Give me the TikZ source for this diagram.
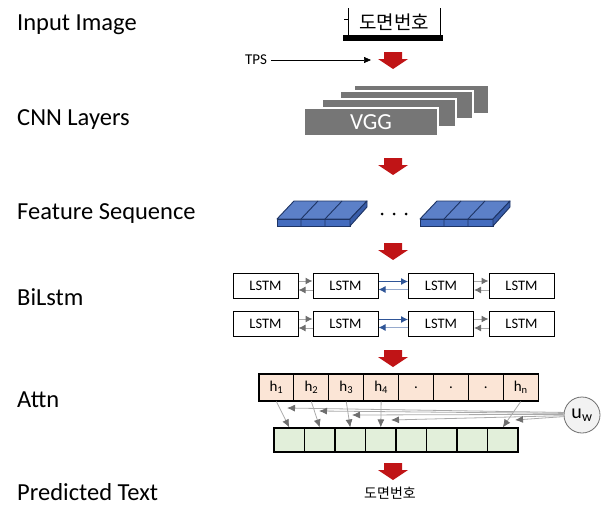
\documentclass[tikz,border=0pt]{standalone}
\usepackage{fontspec}
\setmainfont{Carlito}
\newfontfamily\kr{Noto Sans CJK KR}
\usetikzlibrary{arrows.meta}
\definecolor{redc}{RGB}{192,20,22}
\definecolor{vggc}{RGB}{118,118,118}
\definecolor{topc}{RGB}{92,128,200}
\definecolor{frontc}{RGB}{68,108,190}
\definecolor{sidec}{RGB}{56,92,168}
\definecolor{edgec}{RGB}{30,52,100}
\definecolor{bluearr}{RGB}{47,85,151}
\definecolor{lightblue}{RGB}{150,170,205}
\definecolor{hfill}{RGB}{251,229,214}
\definecolor{gfill}{RGB}{226,239,218}
\definecolor{darkgray}{RGB}{110,110,110}
\definecolor{litegray}{RGB}{170,170,170}
\begin{document}
\begin{tikzpicture}[x=1pt,y=-1pt,
  lbl/.style={anchor=base west,inner sep=0,font=\fontsize{24.5}{28}\selectfont},
  lstmbox/.style={draw,line width=1pt,fill=white,minimum width=65pt,minimum height=25pt,inner sep=0,font=\fontsize{14.5}{16}\selectfont},
  grayarr/.style={draw=litegray,line width=1pt,-{Latex[length=7pt,width=7pt,color=darkgray]}},
  bluearrow/.style={draw=bluearr,line width=0.8pt,-{Latex[length=7pt,width=7pt,color=bluearr]}},
  bluearrowb/.style={draw=lightblue,line width=1pt,-{Latex[length=7pt,width=7pt,color=bluearr]}},
  hcell/.style={draw,line width=1.1pt,fill=hfill,minimum width=34.9pt,minimum height=27pt,inner sep=0,font=\fontsize{15}{17}\selectfont},
  gcell/.style={draw,line width=1.1pt,fill=gfill,minimum width=30.5pt,minimum height=24pt,inner sep=0},
  attarr/.style={draw=litegray,line width=0.8pt,-{Latex[length=8pt,width=7pt,color=darkgray]}},
  cnnbox/.style={fill=vggc,draw=white,line width=1.2pt},
  redarrow/.pic={\fill[redc] (-9,0) -- (9,0) -- (9,7) -- (15,7) -- (0,17) -- (-15,7) -- (-9,7) -- cycle;},
  slab/.pic={
    \filldraw[fill=topc,draw=edgec,line width=0.9pt,line join=round] (0,-7) -- (73,-7) -- (90,-25) -- (17,-25) -- cycle;
    \filldraw[fill=frontc,draw=edgec,line width=0.9pt] (0,0) rectangle (73,-7);
    \filldraw[fill=sidec,draw=edgec,line width=0.9pt,line join=round] (73,0) -- (73,-7) -- (90,-25) -- (90,-19) -- cycle;
    \draw[edgec,line width=0.9pt] (24,-7) -- (41,-25) (48,-7) -- (65,-25) (24,0) -- (24,-7) (48,0) -- (48,-7);
  }]
\useasboundingbox (0,0) rectangle (605,506);

% left labels
\node[lbl] (l1) at (17,30) {Input Image};
\node[lbl] (l2) at (17,125) {CNN Layers};
\node[lbl] (l3) at (17,219) {Feature Sequence};
\node[lbl] (l4) at (17,305) {BiLstm};
\node[lbl] (l5) at (17,407) {Attn};
\node[lbl] (l6) at (17,500) {Predicted Text};

% input image
\fill (343,35) rectangle (443,41);
\draw[line width=1pt] (348,8) -- (348,35) -- (440,35) -- (440,8);
\draw[line width=0.8pt] (344,19) -- (348,19);
\node[inner sep=0,font=\kr\fontsize{19}{22}\selectfont] (img) at (394,22.5) {도면번호};

% TPS
\node[inner sep=0,font=\fontsize{15}{17}\selectfont] (tps) at (256,60) {TPS};
\coordinate (tpsend) at (371,60);
\draw[line width=0.6pt,-{Triangle[length=7pt,width=6pt]}] (tps.east) ++(4,0) -- (tpsend);

% red arrows
\pic at (393,52) {redarrow};
\pic at (393,158) {redarrow};
\pic at (393,243) {redarrow};
\pic at (393,350) {redarrow};
\pic at (393,463) {redarrow};

% CNN layers
\filldraw[cnnbox] (354,85) rectangle (489,114);
\filldraw[cnnbox] (340,91) rectangle (473,119);
\filldraw[cnnbox] (322,99) rectangle (456,127);
\filldraw[cnnbox] (304,108) rectangle (438,136);
\node[text=white,inner sep=0,font=\fontsize{23}{26}\selectfont] (vgg) at (371,122) {VGG};

% feature sequence
\pic at (277,226) {slab};
\pic at (420,226) {slab};
\foreach \xx in {382,394,406} \fill (\xx,214) circle (1.5);

% BiLSTM
\foreach \r/\yy in {a/285.5,b/323.5}{
  \node[lstmbox] (\r1) at (265.5,\yy) {LSTM};
  \node[lstmbox] (\r2) at (345.5,\yy) {LSTM};
  \node[lstmbox] (\r3) at (441,\yy) {LSTM};
  \node[lstmbox] (\r4) at (521.5,\yy) {LSTM};
  \draw[grayarr] ([yshift=4.5pt]\r1.east) -- ([yshift=4.5pt]\r2.west);
  \draw[grayarr] ([yshift=-4.5pt]\r2.west) -- ([yshift=-4.5pt]\r1.east);
  \draw[bluearrow] ([yshift=4pt]\r2.east) -- ([yshift=4pt]\r3.west);
  \draw[bluearrowb] ([yshift=-4pt]\r3.west) -- ([yshift=-4pt]\r2.east);
  \draw[grayarr] ([yshift=4.5pt]\r3.east) -- ([yshift=4.5pt]\r4.west);
  \draw[grayarr] ([yshift=-4.5pt]\r4.west) -- ([yshift=-4.5pt]\r3.east);
}

% attention
\foreach \i/\t in {1/h\textsubscript{1},2/h\textsubscript{2},3/h\textsubscript{3},4/h\textsubscript{4},5/.,6/.,7/.,8/h\textsubscript{n}}{
  \node[hcell] (h\i) at ({259+34.9*(\i-0.5)},387.5) {\t};
}
\foreach \i in {1,...,8}{
  \node[gcell] (g\i) at ({274+30.5*(\i-0.5)},440) {};
}
\foreach \i in {1,2,3,4,8}{
  \draw[attarr] (h\i.south) -- (g\i.north);
}
\node[circle,draw=darkgray,line width=0.8pt,fill=gray!10,minimum size=36pt,inner sep=0,font=\fontsize{20}{22}\selectfont] (uw) at (582,415) {u\textsubscript{w}};
\coordinate (t1) at (287,408);
\coordinate (t2) at (319,411);
\coordinate (t3) at (352,415);
\coordinate (t4) at (391,420);
\coordinate (t5) at (515,420);
\draw[attarr] (uw.172) -- (t1);
\draw[attarr] (uw.175) -- (t2);
\draw[attarr] (uw.178) -- (t3);
\draw[attarr] (uw.182) -- (t4);
\draw[attarr] (uw.185) -- (t5);

% predicted text
\node[inner sep=0,font=\kr\fontsize{14}{16}\selectfont] (pred) at (390,493) {도면번호};
\end{tikzpicture}
\end{document}
